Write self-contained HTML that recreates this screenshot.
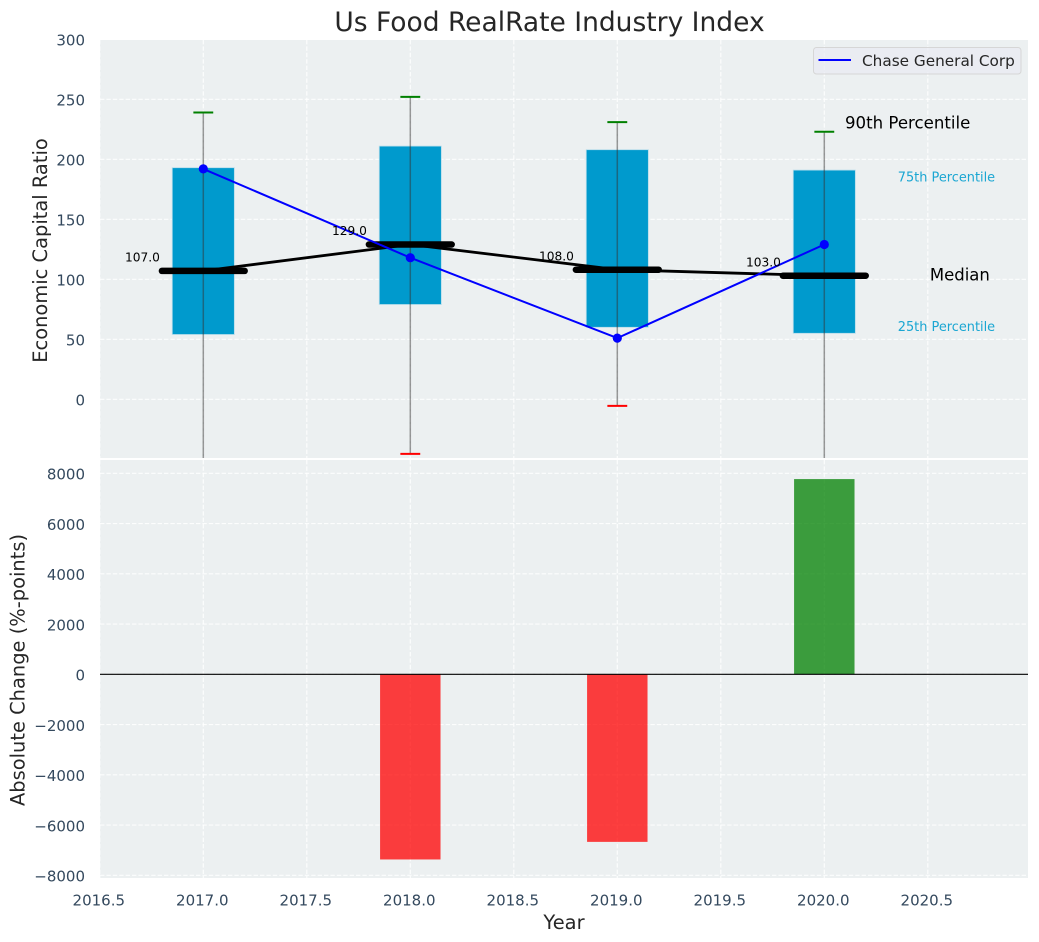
<!DOCTYPE html>
<html>
<head>
<meta charset="utf-8">
<title>Us Food RealRate Industry Index</title>
<style>
html,body{margin:0;padding:0;background:#fff;width:1039px;height:942px;overflow:hidden}
svg{display:block}
text{font-family:"DejaVu Sans","Liberation Sans",sans-serif}
</style>
</head>
<body>
<svg id="chart" width="1039" height="942" viewBox="0 0 1039 942" xmlns="http://www.w3.org/2000/svg"></svg>
<script>
const years = [2017, 2018, 2019, 2020];
const p10 = [-60, -45.5, -5.5, -60];
const p25 = [54, 79, 60, 55];
const medians = [107, 129, 108, 103];
const p75 = [193, 211, 208, 191];
const p90 = [239, 252, 231, 223];
const companyValues = [192, 118, 51, 129];
const changeYears = [2018, 2019, 2020];
const absoluteChange = [-7370, -6670, 7770];
const xTicks = [2016.5, 2017, 2017.5, 2018, 2018.5, 2019, 2019.5, 2020, 2020.5];
const xTickLabels = ['2016.5', '2017.0', '2017.5', '2018.0', '2018.5', '2019.0', '2019.5', '2020.0', '2020.5'];
const topTicks = [0, 50, 100, 150, 200, 250, 300];
const bottomTicks = [-8000, -6000, -4000, -2000, 0, 2000, 4000, 6000, 8000];
const bottomTickLabels = ['\u22128000', '\u22126000', '\u22124000', '\u22122000', '0', '2000', '4000', '6000', '8000'];

const svg = document.getElementById('chart');
const NS = 'http://www.w3.org/2000/svg';
const L = 100, R = 1028, T1 = 40, B1 = 458, T2 = 460, B2 = 878;
const sx = v => 203.3 + (v - 2017) * 207;
const sy1 = v => 399.3 - v * 1.2;
const sy2 = v => 674.3 - v * 0.025125;

function mk(tag, attrs, parent, txt) {
  const e = document.createElementNS(NS, tag);
  for (const k in attrs) e.setAttribute(k, attrs[k]);
  if (txt !== undefined) e.textContent = txt;
  (parent || svg).appendChild(e);
  return e;
}

let el;
const defs = mk('defs', {});
const cp1 = mk('clipPath', {id: 'clip-top'}, defs);
mk('rect', {x: L, y: T1, width: R - L, height: B1 - T1}, cp1);
const cp2 = mk('clipPath', {id: 'clip-bottom'}, defs);
mk('rect', {x: L, y: T2, width: R - L, height: B2 - T2}, cp2);

el = mk('rect', {x: 0, y: 0, width: 1039, height: 942, fill: '#fff'});



el = mk('rect', {x: L, y: T1, width: R - L, height: B1 - T1, fill: '#ecf0f1'});



el = mk('rect', {x: L, y: T2, width: R - L, height: B2 - T2, fill: '#ecf0f1'});



const gridStyle = {stroke: '#fff', 'stroke-width': 1.2, 'stroke-dasharray': '4.4 2', fill: 'none', opacity: 0.85};

// grid lines
xTicks.forEach(t => {
  el = mk('line', Object.assign({x1: sx(t), x2: sx(t), y1: T1, y2: B1}, gridStyle));
  
  
  el = mk('line', Object.assign({x1: sx(t), x2: sx(t), y1: T2, y2: B2}, gridStyle));
  
  
});
topTicks.forEach(t => {
  el = mk('line', Object.assign({x1: L, x2: R, y1: sy1(t), y2: sy1(t)}, gridStyle));
  
  
});
bottomTicks.forEach(t => {
  el = mk('line', Object.assign({x1: L, x2: R, y1: sy2(t), y2: sy2(t)}, gridStyle));
  
  
});

// top panel
const topG = mk('g', {'clip-path': 'url(#clip-top)'});



years.forEach((y, i) => {
  el = mk('rect', {x: sx(y - 0.15), y: sy1(p75[i]), width: sx(y + 0.15) - sx(y - 0.15), height: sy1(p25[i]) - sy1(p75[i]), fill: '#009acd', stroke: '#b5dcea', 'stroke-width': 0.8}, topG);
  
  
  el = mk('line', {x1: sx(y), x2: sx(y), y1: sy1(p90[i]), y2: sy1(p10[i]), stroke: '#333', 'stroke-opacity': 0.5, 'stroke-width': 1.5}, topG);
  
  
  el = mk('line', {x1: sx(y - 0.048), x2: sx(y + 0.048), y1: sy1(p90[i]), y2: sy1(p90[i]), stroke: '#008000', 'stroke-width': 2}, topG);
  
  
  el = mk('line', {x1: sx(y - 0.048), x2: sx(y + 0.048), y1: sy1(p10[i]), y2: sy1(p10[i]), stroke: '#ff0000', 'stroke-width': 2}, topG);
  
  
});

el = mk('polyline', {points: years.map((y, i) => sx(y) + ',' + sy1(medians[i])).join(' '), fill: 'none', stroke: '#000', 'stroke-width': 2.8}, topG);



years.forEach((y, i) => {
  el = mk('line', {x1: sx(y - 0.2), x2: sx(y + 0.2), y1: sy1(medians[i]), y2: sy1(medians[i]), stroke: '#000', 'stroke-width': 6.5, 'stroke-linecap': 'round'}, topG);
  
  
});

el = mk('polyline', {points: years.map((y, i) => sx(y) + ',' + sy1(companyValues[i])).join(' '), fill: 'none', stroke: '#0000ff', 'stroke-width': 2}, topG);



years.forEach((y, i) => {
  el = mk('circle', {cx: sx(y), cy: sy1(companyValues[i]), r: 4.6, fill: '#0000ff'}, topG);
  
  
  el = mk('text', {x: sx(y - 0.21), y: sy1(medians[i]) - 9.3, 'text-anchor': 'end', 'font-size': 12.2, fill: '#000'}, topG, medians[i].toFixed(1));
  
  
});

// annotations for last year
const last = years.length - 1;
const lastYear = years[last];
el = mk('text', {x: sx(lastYear + 0.1), y: sy1(p90[last] + 2.5), 'font-size': 16.6, fill: '#000'}, svg, '90th Percentile');


el = mk('text', {x: sx(lastYear + 0.355), y: sy1(p75[last]) + 11.5, 'font-size': 12.9, fill: '#1aa6d2'}, svg, '75th Percentile');


el = mk('text', {x: sx(lastYear + 0.51), y: sy1(medians[last]) + 5, 'font-size': 16.5, fill: '#000'}, svg, 'Median');


el = mk('text', {x: sx(lastYear + 0.355), y: sy1(p25[last]) - 2.5, 'font-size': 12.9, fill: '#1aa6d2'}, svg, '25th Percentile');



// bottom panel
const botG = mk('g', {'clip-path': 'url(#clip-bottom)'});



changeYears.forEach((y, i) => {
  const v = absoluteChange[i];
  const top = Math.min(sy2(v), sy2(0));
  const h = Math.abs(sy2(v) - sy2(0));
  el = mk('rect', {x: sx(y - 0.146), y: top, width: sx(y + 0.146) - sx(y - 0.146), height: h, fill: v >= 0 ? '#008000' : '#ff0000', 'fill-opacity': 0.75}, botG);
  
  
});

el = mk('line', {x1: L, x2: R, y1: sy2(0), y2: sy2(0), stroke: '#000', 'stroke-width': 1.1}, botG);



// tick labels
const tickColor = '#34495e';
topTicks.forEach(t => {
  el = mk('text', {x: 85, y: sy1(t) + 6.2, 'text-anchor': 'end', 'font-size': 15, fill: tickColor}, svg, String(t));
  
  
});
bottomTicks.forEach((t, i) => {
  el = mk('text', {x: 85, y: sy2(t) + 6.2, 'text-anchor': 'end', 'font-size': 15, fill: tickColor}, svg, bottomTickLabels[i]);
  
  
});
xTicks.forEach((t, i) => {
  el = mk('text', {x: sx(t) - 1, y: 905.5, 'text-anchor': 'middle', 'font-size': 15, fill: tickColor}, svg, xTickLabels[i]);
  
  
});

// titles
el = mk('text', {x: 549.5, y: 31, 'text-anchor': 'middle', 'font-size': 26.5, fill: '#262626'}, svg, 'Us Food RealRate Industry Index');


el = mk('text', {x: 564, y: 929, 'text-anchor': 'middle', 'font-size': 19.44, fill: '#262626'}, svg, 'Year');


el = mk('text', {transform: 'translate(47,250.5) rotate(-90)', 'text-anchor': 'middle', 'font-size': 19.44, fill: '#262626'}, svg, 'Economic Capital Ratio');


el = mk('text', {transform: 'translate(24.5,670) rotate(-90)', 'text-anchor': 'middle', 'font-size': 19.44, fill: '#262626'}, svg, 'Absolute Change (%-points)');



// legend
const legend = mk('g', {});


el = mk('rect', {x: 813.5, y: 47.5, width: 207.5, height: 26.5, rx: 3, fill: '#eaeaf2', 'fill-opacity': 0.7, stroke: '#d6d6d6', 'stroke-width': 1}, legend);


el = mk('line', {x1: 818.5, x2: 851, y1: 60, y2: 60, stroke: '#0000ff', 'stroke-width': 2}, legend);


el = mk('text', {x: 862, y: 66, 'font-size': 15.28, fill: '#262626'}, legend, 'Chase General Corp');


</script>
</body>
</html>
